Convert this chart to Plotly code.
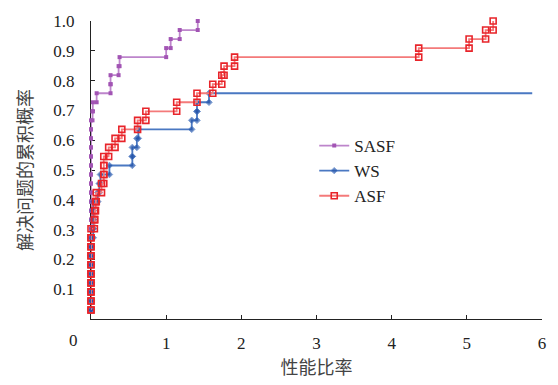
import plotly.graph_objects as go

# Performance profile: sorted performance ratios of the 33 test problems per solver
N_PROBLEMS = 33

sasf_ratios = [0.0] * 22 + [0.02, 0.025, 0.075, 0.26, 0.26, 0.367, 0.38,
                            1.0, 1.06, 1.18, 1.42]
ws_ratios = [0.0] * 9 + [0.03, 0.03, 0.03, 0.03, 0.09, 0.11, 0.125, 0.245,
                         0.55, 0.55, 0.61, 0.63, 1.34, 1.41, 1.41, 1.57]
ws_tail = 5.87  # WS solves no more problems up to the largest ratio
asf_ratios = [0.0] * 10 + [0.045, 0.05, 0.06, 0.07, 0.14, 0.17, 0.17, 0.17,
                           0.235, 0.32, 0.41, 0.62, 0.73, 1.14, 1.41, 1.62,
                           1.74, 1.77, 1.91, 4.36, 5.03, 5.25, 5.35]

series_names = ["SASF", "WS", "ASF"]
x_ticks = [1, 2, 3, 4, 5, 6]
y_ticks = [0.1, 0.2, 0.3, 0.4, 0.5, 0.6, 0.7, 0.8, 0.9, 1.0]
y_tick_text = ["0.1", "0.2", "0.3", "0.4", "0.5", "0.6", "0.7", "0.8", "0.9", "1.0"]


def staircase(ratios, n):
    """Step curve of the cumulative fraction of problems solved within each ratio."""
    xs = [ratios[0]]
    ys = [1 / n]
    for k in range(1, len(ratios)):
        xs += [ratios[k], ratios[k]]
        ys += [k / n, (k + 1) / n]
    return xs, ys


sx, sy = staircase(sasf_ratios, N_PROBLEMS)
wx, wy = staircase(ws_ratios, N_PROBLEMS)
ax, ay = staircase(asf_ratios, N_PROBLEMS)

# flat tail of WS without a marker at its end
wx_full = wx + [ws_tail]
wy_full = wy + [wy[-1]]
w_sizes = [5] * len(wx) + [0]

serif = "Liberation Serif"
cjk = "Noto Sans CJK SC"

fig = go.Figure()
fig.add_trace(go.Scatter(
    x=sx, y=sy, name=series_names[0], mode="lines+markers",
    line=dict(color="#bd85cb", width=1.8),
    marker=dict(symbol="square", size=4, color="#a254b4"),
    cliponaxis=False,
))
fig.add_trace(go.Scatter(
    x=wx_full, y=wy_full, name=series_names[1], mode="lines+markers",
    line=dict(color="#4a78c2", width=1.8),
    marker=dict(symbol="diamond", size=w_sizes, color="#2555aa"),
    cliponaxis=False,
))
fig.add_trace(go.Scatter(
    x=ax, y=ay, name=series_names[2], mode="lines+markers",
    line=dict(color="#f47a7a", width=1.8),
    marker=dict(symbol="square-open", size=6, color="#e8242a",
                line=dict(width=1.6, color="#e8242a")),
    cliponaxis=False,
))

fig.update_layout(
    width=558, height=385,
    margin=dict(l=91, r=15, t=17, b=65),
    paper_bgcolor="white", plot_bgcolor="white",
    showlegend=True,
    legend=dict(
        x=0.495, y=0.641, xanchor="left", yanchor="top",
        font=dict(family=serif, size=17, color="#222"),
        bgcolor="rgba(0,0,0,0)", tracegroupgap=0, itemwidth=30,
    ),
    font=dict(family=serif, size=17, color="#222"),
)

fig.update_xaxes(
    range=[0, 6], tickvals=x_ticks, ticktext=[str(v) for v in x_ticks],
    ticks="inside", ticklen=4, tickcolor="#222", tickwidth=1,
    showline=True, linecolor="#222", linewidth=1.3, layer="below traces",
    showgrid=False, zeroline=False,
    tickfont=dict(family=serif, size=17, color="#222"),
    ticklabelstandoff=8,
    title=dict(text="性能比率", font=dict(family=cjk, size=18, color="#444"),
               standoff=8),
)
fig.update_yaxes(
    range=[0, 1.0], tickvals=y_ticks, ticktext=y_tick_text,
    ticks="inside", ticklen=4, tickcolor="#222", tickwidth=1,
    showline=True, linecolor="#222", linewidth=1.3, layer="below traces",
    showgrid=False, zeroline=False,
    tickfont=dict(family=serif, size=17, color="#222"),
    ticklabelstandoff=12,
    title=dict(text="解决问题的累积概率", font=dict(family=cjk, size=18, color="#444"),
               standoff=15),
)

# shared origin label
fig.add_annotation(
    x=0, y=0, xref="x", yref="y", text="0", showarrow=False,
    xshift=-18, yshift=-21, font=dict(family=serif, size=17, color="#222"),
)

fig.write_html("out.html")
